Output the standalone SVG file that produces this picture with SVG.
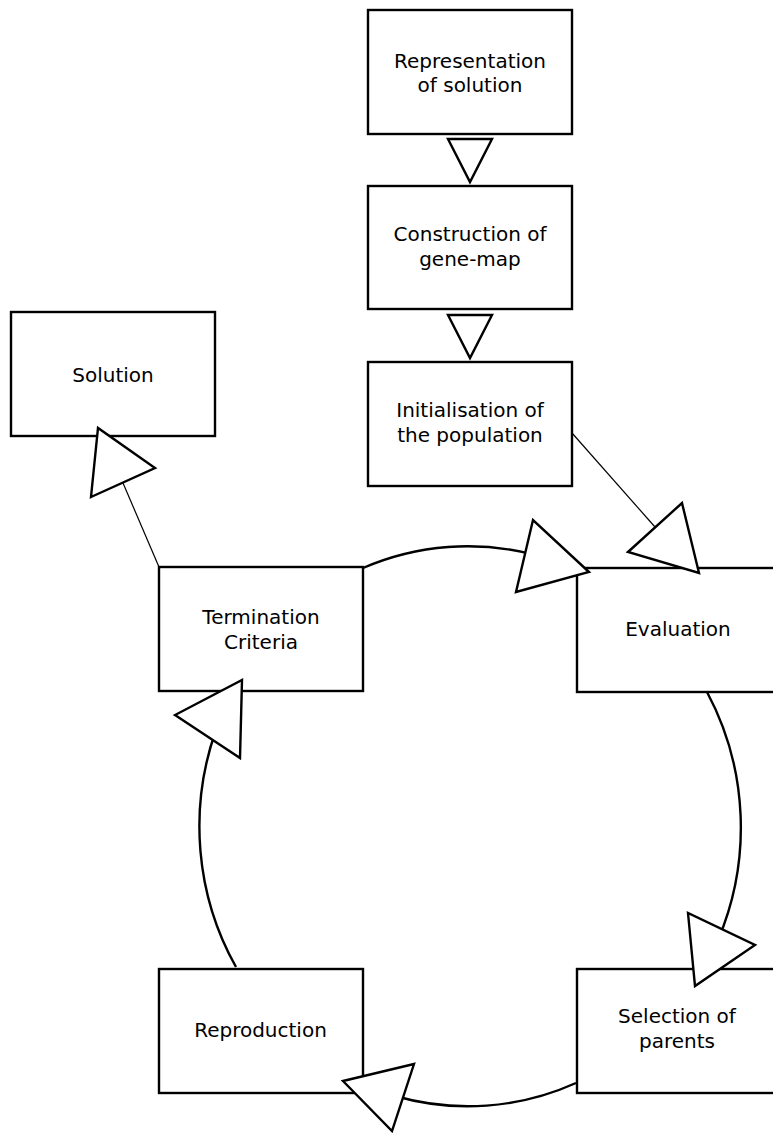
<svg xmlns="http://www.w3.org/2000/svg" width="773" height="1133" viewBox="0 0 773 1133">
<style>
.box{fill:#fff;stroke:#000;stroke-width:2.4}
.lbl{font-family:"DejaVu Sans","Liberation Sans",sans-serif;font-size:20px;fill:#000;text-anchor:middle}
.thin{fill:none;stroke:#000;stroke-width:1.2}
.arc{fill:none;stroke:#000;stroke-width:2.4}
.head{fill:#fff;stroke:#000;stroke-width:2.4;stroke-linejoin:miter}
</style>
<rect width="773" height="1133" fill="#fff"/>
<g id="n-representation">
<rect class="box" x="368" y="10" width="204" height="124"/>
<text class="lbl" x="470" y="67.5">Representation</text>
<text class="lbl" x="470" y="92">of solution</text>
</g>
<g id="n-construction">
<rect class="box" x="368" y="186" width="204" height="123"/>
<text class="lbl" x="470" y="241">Construction of</text>
<text class="lbl" x="470" y="266">gene-map</text>
</g>
<g id="n-initialisation">
<rect class="box" x="368" y="362" width="204" height="124"/>
<text class="lbl" x="470" y="416.5">Initialisation of</text>
<text class="lbl" x="470" y="441.5">the population</text>
</g>
<g id="n-solution">
<rect class="box" x="11" y="312" width="204" height="124"/>
<text class="lbl" x="113" y="381.5">Solution</text>
</g>
<g id="n-termination">
<rect class="box" x="159" y="567" width="204" height="124"/>
<text class="lbl" x="261" y="624">Termination</text>
<text class="lbl" x="261" y="649">Criteria</text>
</g>
<g id="n-evaluation">
<rect class="box" x="577" y="568" width="204" height="124"/>
<text class="lbl" x="678" y="636">Evaluation</text>
</g>
<g id="n-selection">
<rect class="box" x="577" y="969" width="204" height="124"/>
<text class="lbl" x="677" y="1023">Selection of</text>
<text class="lbl" x="677" y="1048">parents</text>
</g>
<g id="n-reproduction">
<rect class="box" x="159" y="969" width="204" height="124"/>
<text class="lbl" x="260.5" y="1037">Reproduction</text>
</g>
<g id="connectors">
<polygon class="head" points="448,139 492,139 470,182"/>
<polygon class="head" points="448,315 492,315 470,358"/>
<line class="thin" x1="572" y1="433" x2="655" y2="527"/>
<polygon class="head" points="628,552 682,503 699,573"/>
<line class="thin" x1="159" y1="567" x2="123" y2="483"/>
<polygon class="head" points="91,497 155,468 98,428"/>
<path class="arc" d="M363,568 A271,280 0 0 1 535,555"/>
<polygon class="head" points="533,520 516,592 589,572"/>
<path class="arc" d="M707,692 A271,280 0 0 1 718,940"/>
<polygon class="head" points="688,913 695,986 755,945"/>
<path class="arc" d="M576,1083 A271,280 0 0 1 395,1096"/>
<polygon class="head" points="343,1081 414,1064 392,1131"/>
<path class="arc" d="M236,967 A271,280 0 0 1 216,730"/>
<polygon class="head" points="175,715 240,758 242,680"/>
</g>
</svg>
